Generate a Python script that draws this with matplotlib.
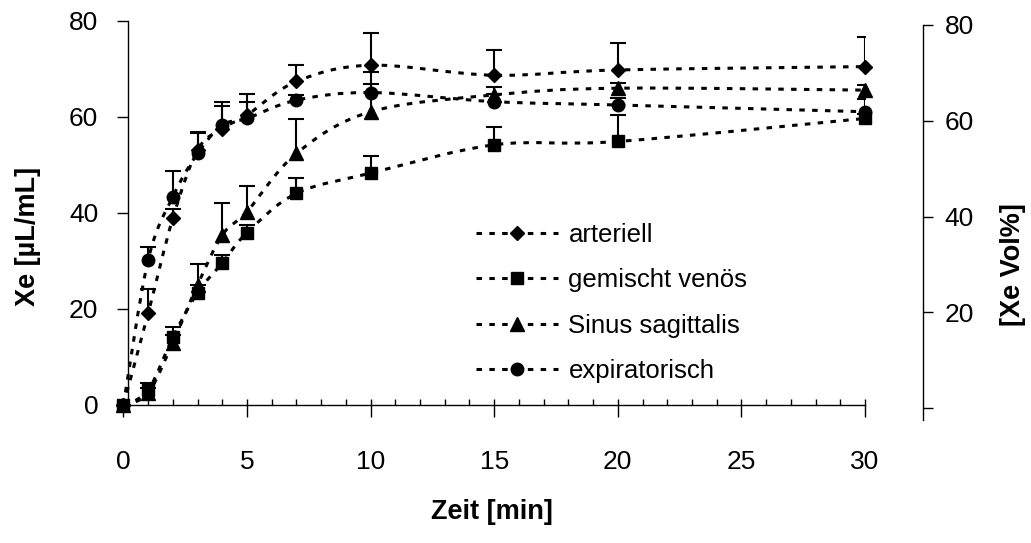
import numpy as np
import matplotlib
matplotlib.use('Agg')
import matplotlib.pyplot as plt
from matplotlib.path import Path
from matplotlib.patches import PathPatch
from matplotlib.lines import Line2D
from matplotlib.ticker import MultipleLocator

plt.rcParams['font.family'] = ['Liberation Sans', 'DejaVu Sans']

# Messzeitpunkte [min]
zeit = [0, 1, 2, 3, 4, 5, 7, 10, 15, 20, 30]

# Mittelwerte Xe [µL/mL] und obere Standardabweichung
arteriell = [0, 19.1, 38.9, 53.1, 57.6, 60.4, 67.4, 70.8, 68.7, 69.8, 70.5]
arteriell_sd = [0, 5.0, 2.0, 3.8, 4.7, 4.3, 3.4, 6.6, 5.3, 5.7, 6.2]

gemischt_venoes = [0, 3.1, 14.1, 23.4, 29.6, 35.9, 44.1, 48.3, 54.2, 54.9, 59.7]
gemischt_venoes_sd = [0, 1.4, 2.2, 1.5, 1.6, 1.6, 3.1, 3.6, 3.8, 5.5, 1.0]

sinus_sagittalis = [0, 2.5, 13.0, 25.0, 35.4, 40.3, 52.4, 61.1, 64.6, 66.0, 65.6]
sinus_sagittalis_sd = [0, 1.0, 1.5, 4.3, 6.6, 5.3, 7.1, 5.8, 1.7, 1.0, 1.0]

expiratorisch = [0, 30.2, 43.4, 52.4, 58.3, 59.7, 63.5, 65.1, 63.2, 62.5, 61.1]
expiratorisch_sd = [0, 2.8, 5.4, 4.2, 4.9, 3.5, 1.0, 4.2, 1.5, 1.5, 2.6]

namen = ['arteriell', 'gemischt venös', 'Sinus sagittalis', 'expiratorisch']
marker = ['D', 's', '^', 'o']
marker_size = [7.5, 9, 9.5, 9]


def smooth_path(x, y):
    # geglaettete Linie (Bezier durch alle Punkte)
    pts = np.column_stack([x, y]).astype(float)
    n = len(pts)
    verts = [pts[0]]
    codes = [Path.MOVETO]
    for i in range(n - 1):
        p0 = pts[i - 1] if i > 0 else pts[i]
        p1 = pts[i]
        p2 = pts[i + 1]
        p3 = pts[i + 2] if i + 2 < n else pts[i + 1]
        verts += [p1 + (p2 - p0) / 6, p2 - (p3 - p1) / 6, p2]
        codes += [Path.CURVE4] * 3
    return Path(verts, codes)


W, H = 1031, 543
fig = plt.figure(figsize=(W / 100, H / 100), dpi=100)
ax = fig.add_axes([123.4 / W, (H - 405) / H, 741.6 / W, 384 / H])
ax.set_xlim(0, 30)
ax.set_ylim(0, 80)

dash = (0, (1.8, 2.4))
werte = [arteriell, gemischt_venoes, sinus_sagittalis, expiratorisch]
sds = [arteriell_sd, gemischt_venoes_sd, sinus_sagittalis_sd, expiratorisch_sd]
handles = []
for name, y, sd, m, ms in zip(namen, werte, sds, marker, marker_size):
    ax.add_patch(PathPatch(smooth_path(zeit, y), fill=False, edgecolor='black',
                           lw=2.2, linestyle=dash, zorder=2))
    eb = ax.errorbar(zeit[1:], y[1:], yerr=[np.zeros(len(y) - 1), sd[1:]],
                     fmt='none', ecolor='black', elinewidth=1.5, capsize=5.8,
                     capthick=1.5, zorder=3)
    eb[1][0].set_visible(False)
    ax.plot(zeit, y, ls='none', marker=m, ms=ms, color='black', zorder=4,
            clip_on=False)
    handles.append(Line2D([], [], color='black', lw=2.2, linestyle=dash,
                          marker=m, ms=ms, label=name))

for s in ['top', 'right']:
    ax.spines[s].set_visible(False)
ax.spines['left'].set_linewidth(1)
ax.spines['left'].set_position(('data', 0.2))
ax.spines['bottom'].set_linewidth(1)
ax.spines['bottom'].set_bounds(0.2, 30)

ax.xaxis.set_major_locator(MultipleLocator(5))
ax.xaxis.set_minor_locator(MultipleLocator(1))
ax.xaxis.remove_overlapping_locs = False
ax.tick_params(axis='x', which='major', direction='out', length=8.6, width=1,
               pad=24, labelsize=19)
ax.tick_params(axis='x', which='minor', direction='in', length=4.5, width=1)
ax.yaxis.set_major_locator(MultipleLocator(20))
ax.tick_params(axis='y', direction='out', length=8, width=1, pad=13.7,
               labelsize=19)

# zweite Achse [Xe Vol%]
ax2 = fig.add_axes([923 / W - 0.001, (H - 420) / H, 0.001, 395 / H])
ax2.set_ylim(-2.5, 80)
ax2.patch.set_visible(False)
for s in ['left', 'top', 'bottom']:
    ax2.spines[s].set_visible(False)
ax2.spines['right'].set_linewidth(1)
ax2.xaxis.set_visible(False)
ax2.yaxis.tick_right()
ax2.set_yticks([0, 20, 40, 60, 80], ['', '20', '40', '60', '80'])
ax2.tick_params(axis='y', direction='out', length=7, width=1, pad=8.6,
                labelsize=19)

ax.legend(handles=handles, loc='upper left',
          bbox_to_anchor=(476 / W, 1 - 223 / H), bbox_transform=fig.transFigure,
          frameon=False, fontsize=18.5, handlelength=3.2, handletextpad=0.4,
          labelspacing=0.83, borderpad=0, borderaxespad=0, numpoints=1)

fig.text(28 / W, 1 - 236 / H, 'Xe [µL/mL]', rotation=90, ha='center',
         va='center', fontsize=19.5, fontweight='bold')
fig.text(492 / W, 1 - 512 / H, 'Zeit [min]', ha='center', va='center',
         fontsize=19.5, fontweight='bold')
fig.text(1013 / W, 1 - 265 / H, '[Xe Vol%]', rotation=90, ha='center',
         va='center', fontsize=19.5, fontweight='bold')

fig.savefig('out.png', dpi=100)
